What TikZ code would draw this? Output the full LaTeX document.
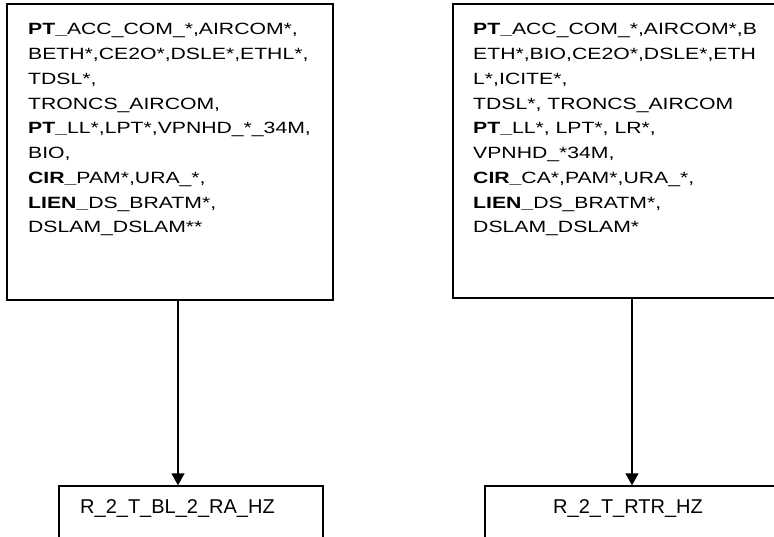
\documentclass[tikz,border=0pt]{standalone}
\usepackage{fontspec}
\setmainfont{Liberation Sans}
\newfontfamily\widefont[FakeStretch=1.3]{Liberation Sans}
\usetikzlibrary{arrows.meta}
\begin{document}
\begin{tikzpicture}[x=1pt,y=-1pt,
  box/.style={draw,line width=1.4pt,rectangle,inner sep=0pt},
  lbl/.style={inner sep=0pt,anchor=north west,align=left,font=\widefont\fontsize{16.3}{24.75}\selectfont},
  small/.style={inner sep=0pt,anchor=base west,font=\fontsize{20}{24}\selectfont},
  arr/.style={-{Triangle[length=12pt,width=13pt]},line width=1.4pt}]
\useasboundingbox (0,0) rectangle (774,536);
\clip (0,0) rectangle (774,536);
% boxes
\node[box,minimum width=326pt,minimum height=296pt] (tl) at (170,152) {};
\node[box,minimum width=358pt,minimum height=294pt] (tr) at (632,151) {};
\node[box,minimum width=264pt,minimum height=74pt] (bl) at (191,523) {};
\node[box,minimum width=296pt,minimum height=74pt] (br) at (633,523) {};
% texts
\node[lbl] (tltext) at (28,23.2) {{\bfseries PT\_}ACC\_COM\_*,AIRCOM*,\\
BETH*,CE2O*,DSLE*,ETHL*,\\
TDSL*,\\
TRONCS\_AIRCOM,\\
{\bfseries PT\_}LL*,LPT*,VPNHD\_*\_34M,\\
BIO,\\
{\bfseries CIR\_}PAM*,URA\_*,\\
{\bfseries LIEN\_}DS\_BRATM*,\\
DSLAM\_DSLAM**};
\node[lbl] (trtext) at (473,23.2) {{\bfseries PT\_}ACC\_COM\_*,AIRCOM*,B\\
ETH*,BIO,CE2O*,DSLE*,ETH\\
L*,ICITE*,\\
TDSL*, TRONCS\_AIRCOM\\
{\bfseries PT\_}LL*, LPT*, LR*,\\
VPNHD\_*34M,\\
{\bfseries CIR\_}CA*,PAM*,URA\_*,\\
{\bfseries LIEN\_}DS\_BRATM*,\\
DSLAM\_DSLAM*};
\node[small] (bltext) at (80,513) {R\_2\_T\_BL\_2\_RA\_HZ};
\node[small] (brtext) at (553,513) {R\_2\_T\_RTR\_HZ};
% connectors
\coordinate (xl) at (178,0);
\coordinate (xr) at (632,0);
\draw[arr] (tl.south -| xl) -- (bl.north -| xl);
\draw[arr] (tr.south -| xr) -- (br.north -| xr);
\end{tikzpicture}
\end{document}
